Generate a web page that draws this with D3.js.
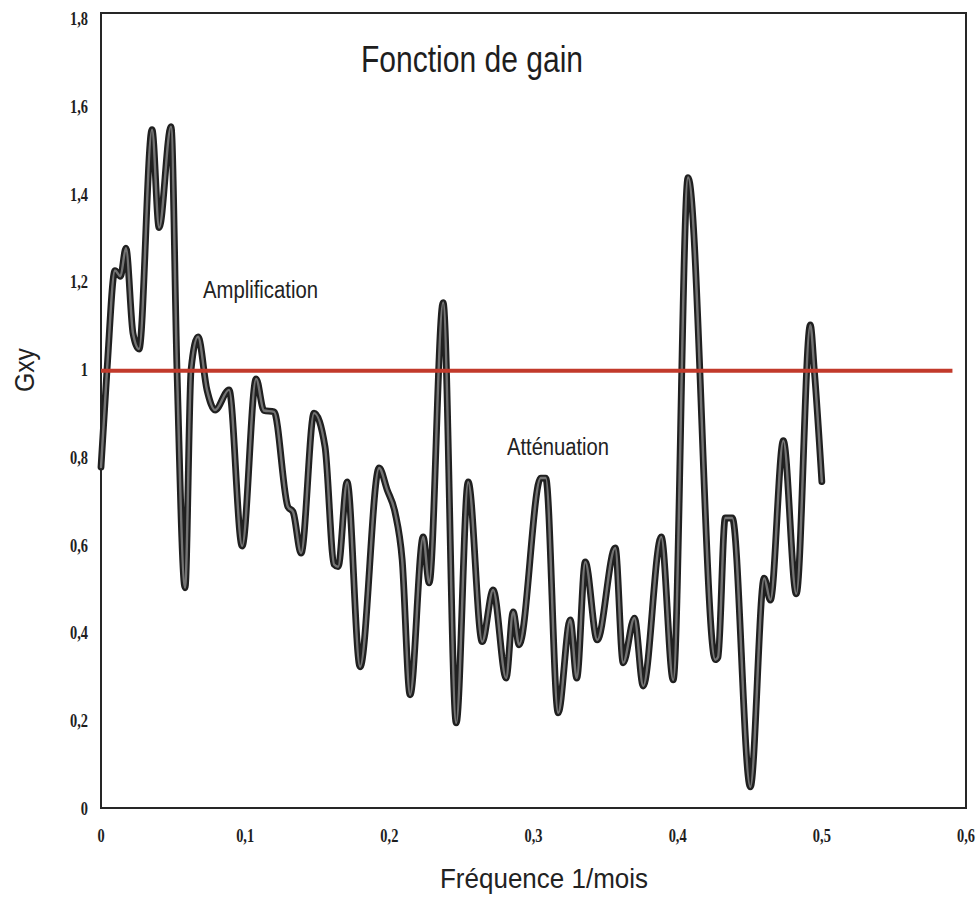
<!DOCTYPE html>
<html>
<head>
<meta charset="utf-8">
<script src="https://cdn.jsdelivr.net/npm/d3@7"></script>
<style>
  html, body { margin: 0; padding: 0; background: #fff; }
  svg { display: block; }
</style>
</head>
<body>
<div id="chart"></div>
<script>
// Gain function Gxy versus frequency (1/month)
const freq = [
  0.0000, 0.0042, 0.0097, 0.0135, 0.0173, 0.0222, 0.0264, 0.0354, 0.0403, 0.0486,
  0.0527, 0.0583, 0.0625, 0.0673, 0.0735, 0.0791, 0.0888, 0.0979, 0.1076, 0.1130,
  0.1200, 0.1297, 0.1332, 0.1388, 0.1478, 0.1554, 0.1617, 0.1645, 0.1707, 0.1797,
  0.1929, 0.1985, 0.2040, 0.2089, 0.2144, 0.2235, 0.2276, 0.2373, 0.2464, 0.2547,
  0.2644, 0.2720, 0.2810, 0.2859, 0.2900, 0.3050, 0.3085, 0.3171, 0.3255, 0.3300,
  0.3359, 0.3442, 0.3567, 0.3622, 0.3700, 0.3761, 0.3886, 0.3969, 0.4072, 0.4261,
  0.4280, 0.4330, 0.4379, 0.4504, 0.4600, 0.4643, 0.4733, 0.4823, 0.4920, 0.4948,
  0.5000
];
const gain = [
  0.777, 1.000, 1.225, 1.212, 1.276, 1.082, 1.046, 1.546, 1.323, 1.553,
  1.000, 0.502, 1.000, 1.074, 0.953, 0.907, 0.953, 0.597, 0.978, 0.906,
  0.903, 0.686, 0.675, 0.581, 0.900, 0.823, 0.555, 0.550, 0.743, 0.322,
  0.775, 0.725, 0.673, 0.566, 0.258, 0.618, 0.513, 1.152, 0.194, 0.743,
  0.379, 0.497, 0.296, 0.447, 0.372, 0.752, 0.752, 0.217, 0.429, 0.296,
  0.561, 0.383, 0.593, 0.331, 0.433, 0.278, 0.618, 0.292, 1.437, 0.338,
  0.344, 0.661, 0.661, 0.048, 0.524, 0.474, 0.837, 0.488, 1.101, 0.997,
  0.744
];
const xTicks = [0, 0.1, 0.2, 0.3, 0.4, 0.5, 0.6];
const yTicks = [0, 0.2, 0.4, 0.6, 0.8, 1, 1.2, 1.4, 1.6, 1.8];
const refLevel = [1];          // unit gain: amplification above, attenuation below
const refSpan = [0, 0.5906];

const W = 979, H = 897;
const x = d3.scaleLinear().domain([0, 0.6]).range([101, 966]);
const y = d3.scaleLinear().domain([0, 1.812]).range([808, 13]);
const fmt = v => String(v).replace(".", ",");

const svg = d3.select("#chart").append("svg")
  .attr("width", W).attr("height", H);

// plot frame
svg.append("rect")
  .attr("x", x(0)).attr("y", y(1.812))
  .attr("width", x(0.6) - x(0)).attr("height", y(0) - y(1.812))
  .attr("fill", "none").attr("stroke", "#262626").attr("stroke-width", 2);

// y tick labels (condensed bold serif)
svg.append("g").selectAll("text").data(yTicks).join("text")
  .attr("transform", d => `translate(88,${y(d)}) scale(0.76,1)`)
  .attr("text-anchor", "end").attr("dy", "0.36em")
  .attr("font-family", "'Liberation Serif', 'DejaVu Serif', serif")
  .attr("font-weight", "bold").attr("font-size", 19).attr("fill", "#1e1e1e")
  .text(fmt);

// x tick labels
svg.append("g").selectAll("text").data(xTicks).join("text")
  .attr("transform", d => `translate(${x(d)},835) scale(0.76,1)`)
  .attr("text-anchor", "middle").attr("dy", "0.36em")
  .attr("font-family", "'Liberation Serif', 'DejaVu Serif', serif")
  .attr("font-weight", "bold").attr("font-size", 19).attr("fill", "#1e1e1e")
  .text(fmt);

// gain curve: dark outer stroke with a grey core
const line = d3.line()
  .x((d, i) => x(freq[i]))
  .y(d => y(d))
  .curve(d3.curveMonotoneX);

svg.append("path").datum(gain)
  .attr("d", line).attr("fill", "none")
  .attr("stroke", "#202020").attr("stroke-width", 6.8)
  .attr("stroke-linejoin", "round").attr("stroke-linecap", "round");
svg.append("path").datum(gain)
  .attr("d", line).attr("fill", "none")
  .attr("stroke", "#747474").attr("stroke-width", 2.4)
  .attr("stroke-linejoin", "round").attr("stroke-linecap", "round");

// unit-gain reference line
svg.append("g").selectAll("line").data(refLevel).join("line")
  .attr("x1", x(refSpan[0])).attr("x2", x(refSpan[1]))
  .attr("y1", d => y(d) + 1.5).attr("y2", d => y(d) + 1.5)
  .attr("stroke", "#c23a2b").attr("stroke-width", 4);

const sans = "'Liberation Sans', Arial, sans-serif";

// title
svg.append("text")
  .attr("x", 361).attr("y", 72)
  .attr("font-family", sans).attr("font-size", 36).attr("fill", "#1e1e1e")
  .attr("textLength", 222).attr("lengthAdjust", "spacingAndGlyphs")
  .text("Fonction de gain");

// region annotations
svg.append("text")
  .attr("x", 203).attr("y", 298)
  .attr("font-family", sans).attr("font-size", 23).attr("fill", "#222")
  .attr("textLength", 115).attr("lengthAdjust", "spacingAndGlyphs")
  .text("Amplification");
svg.append("text")
  .attr("x", 507).attr("y", 455)
  .attr("font-family", sans).attr("font-size", 23).attr("fill", "#222")
  .attr("textLength", 102).attr("lengthAdjust", "spacingAndGlyphs")
  .text("Atténuation");

// axis titles
svg.append("text")
  .attr("x", 440).attr("y", 888)
  .attr("font-family", sans).attr("font-size", 28).attr("fill", "#222")
  .attr("textLength", 208).attr("lengthAdjust", "spacingAndGlyphs")
  .text("Fréquence 1/mois");
svg.append("text")
  .attr("transform", "translate(34,392) rotate(-90)")
  .attr("font-family", sans).attr("font-size", 27).attr("fill", "#222")
  .attr("textLength", 44).attr("lengthAdjust", "spacingAndGlyphs")
  .text("Gxy");
</script>
</body>
</html>
